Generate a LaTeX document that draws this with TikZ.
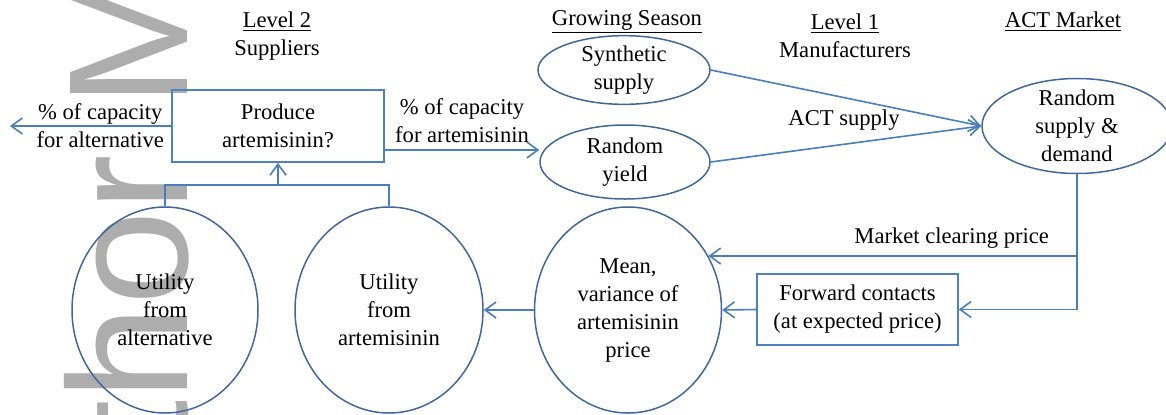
\documentclass[tikz,border=0pt]{standalone}
\usepackage{fontspec}
\setmainfont{Liberation Serif}
\newfontfamily\wmfont{Liberation Sans}
\usetikzlibrary{arrows.meta,shapes.geometric}
\definecolor{boxblue}{HTML}{4F81BD}
\definecolor{ovalblue}{HTML}{41679A}
\definecolor{lineblue}{HTML}{4A7EBB}
\definecolor{wmgray}{HTML}{ADADAD}

\begin{document}
\begin{tikzpicture}[x=0.5pt, y=-0.5pt,
  every node/.style={font=\fontsize{11.3}{14}\selectfont, align=center},
  decision/.style={draw=boxblue, line width=0.8pt, minimum width=106pt, minimum height=36pt, inner sep=0pt},
  oval/.style={ellipse, draw=ovalblue, line width=0.75pt, inner sep=0pt},
  flow/.style={draw=lineblue, line width=0.8pt, -{Straight Barb[length=5.5pt,width=8pt]}},
  link/.style={draw=lineblue, line width=0.8pt}]
  \clip (0,0) rectangle (1166,414);

  % watermark
  \node[rotate=90, anchor=base west, inner sep=0pt, text=wmgray,
        font=\wmfont\fontsize{85}{85}\selectfont] (wm) at (187,448) {thor M};

  % column headings
  \node (lev2) at (277,36) {\underline{Level 2}\\Suppliers};
  \node (grow) at (627,22) {\underline{Growing Season}};
  \node (lev1) at (845,36) {\underline{Level 1}\\Manufacturers};
  \node (actm) at (1063,22) {\underline{ACT Market}};

  % decision and market nodes
  \node[decision] (prod) at (278,126) {Produce\\artemisinin?};
  \node[oval, minimum width=86pt, minimum height=32pt] (synth) at (624,70) {Synthetic\\supply};
  \node[oval, minimum width=85pt, minimum height=37pt] (yield) at (625,162) {Random\\yield};
  \node[oval, minimum width=95pt, minimum height=47.5pt, inner sep=-3pt] (market) at (1077,126) {Random\\supply \&\\demand};
  \node[decision, minimum width=100.5pt, minimum height=35.5pt] (fwd) at (857.5,309.5) {Forward contacts\\(at expected price)};

  % price and utility circles
  \node[oval, minimum width=93.5pt, minimum height=103pt] (mean) at (628,310) {Mean,\\variance of\\artemisinin\\price};
  \node[oval, minimum width=94pt, minimum height=103pt] (utart) at (389,310) {Utility\\from\\artemisinin};
  \node[oval, minimum width=93pt, minimum height=103pt] (utalt) at (165,310) {Utility\\from\\alternative};

  % free ends and bends
  \coordinate (altout) at (10,126);
  \coordinate (join) at (278,185);
  \coordinate (mcp) at (1077,256);

  % capacity split
  \draw[flow] (prod.west) -- node[pos=0.44] (altlbl) {\% of capacity\\for alternative} (altout);
  \draw[flow] ([yshift=-12pt]prod.east) -- node[above] (artlbl) {\% of capacity\\for artemisinin} ([yshift=-12pt]prod.east -| yield.west);

  % supply into the market
  \draw[flow] (synth.east) -- (market.west);
  \draw[flow] (yield.east) -- (market.west);
  \node (actsup) at (844,120) {ACT supply};

  % prices back to the suppliers
  \draw[link] (market.south) -- (mcp);
  \draw[flow] (mcp) -- node[above, pos=0.34] (mcplbl) {Market clearing price} (mcp -| mean.34);
  \draw[flow] (mcp) |- (fwd.east);
  \draw[flow] (fwd.west) -- (mean.east);
  \draw[flow] (mean.west) -- (utart.east);
  \draw[link] (utalt.north) |- (join) -| (utart.north);
  \draw[flow] (join) -- (prod.south);
\end{tikzpicture}
\end{document}
